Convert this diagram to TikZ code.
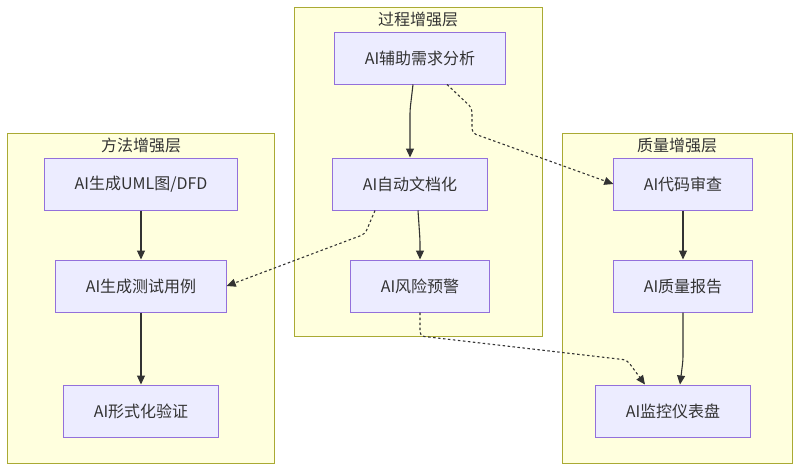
\documentclass[tikz,border=0pt]{standalone}
\usepackage{fontspec}
\setmainfont{Noto Sans CJK SC}
\usetikzlibrary{arrows.meta}
\definecolor{nodefill}{HTML}{ECECFF}
\definecolor{nodeline}{HTML}{9370DB}
\definecolor{layerfill}{HTML}{FFFFDE}
\definecolor{layerline}{HTML}{AAAA33}
\definecolor{txt}{HTML}{333333}
\definecolor{edge}{HTML}{333333}
\begin{document}
\begin{tikzpicture}[x=1pt,y=-1pt,
  box/.style={draw=nodeline,fill=nodefill,line width=1pt,minimum height=52pt,inner xsep=30pt,text=txt,font=\fontsize{16}{19}\selectfont},
  layer/.style={draw=layerline,fill=layerfill,line width=1pt},
  title/.style={text=txt,font=\fontsize{16}{19}\selectfont},
  link/.style={draw=edge,line width=1.1pt,rounded corners=4pt,-{Triangle[length=9pt,width=8pt]}},
  hint/.style={link,dash pattern=on 2.5pt off 2.5pt}]
\useasboundingbox[fill=white] (0,0) rectangle (800,471);
% layers
\draw[layer] (294,7) rectangle (542,336);
\draw[layer] (7,133) rectangle (274,463);
\draw[layer] (562,133) rectangle (792,463);
\node[title] (tproc) at (418,19) {过程增强层};
\node[title] (tmeth) at (141,145) {方法增强层};
\node[title] (tqual) at (677,145) {质量增强层};
% process layer
\node[box] (req) at (420,58) {AI辅助需求分析};
\node[box] (doc) at (410,184) {AI自动文档化};
\node[box] (risk) at (420,286) {AI风险预警};
% method layer
\node[box] (uml) at (141,184) {AI生成UML图/DFD};
\node[box] (test) at (141,286) {AI生成测试用例};
\node[box] (proof) at (141,411) {AI形式化验证};
% quality layer
\node[box] (review) at (683,184) {AI代码审查};
\node[box] (report) at (683,286) {AI质量报告};
\node[box] (dash) at (673,411) {AI监控仪表盘};
% links
\draw[link] ([xshift=-7pt]req.south) -- (410,110) -- (doc.north);
\draw[hint] ([xshift=27pt]req.south) -- (472,108) -- (472,133) -- (review.west);
\draw[hint] ([xshift=-35pt]doc.south) -- (365,234) -- (test.east);
\draw[link] ([xshift=8pt]doc.south) -- (420,240) -- (risk.north);
\draw[hint] (risk.south) -- (420,336) -- (627,360) -- ([xshift=-28pt]dash.north);
\draw[link] (uml) -- (test);
\draw[link] (test) -- (proof);
\draw[link] (review) -- (report);
\draw[link] (report.south) -- (683,360) -- ([xshift=7pt]dash.north);
\end{tikzpicture}
\end{document}
